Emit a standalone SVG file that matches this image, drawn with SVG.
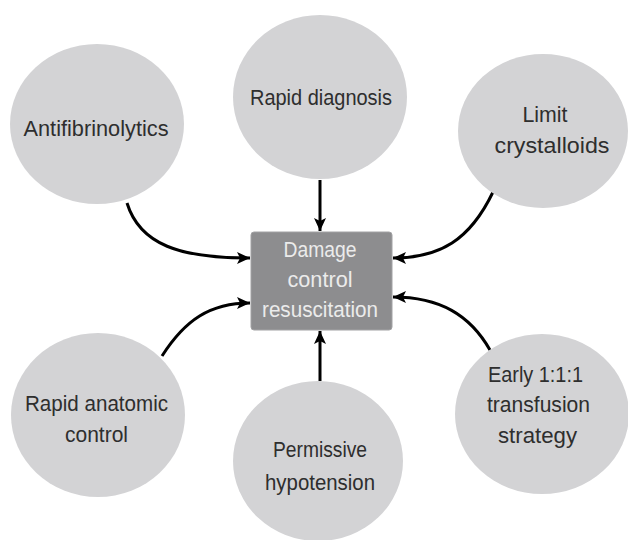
<svg xmlns="http://www.w3.org/2000/svg" width="628" height="540" viewBox="0 0 628 540">
<defs>
<style>
.circ{fill:#d3d3d5;}
.lbl{font-family:"Liberation Sans",Arial,sans-serif;font-size:22px;fill:#2e2e2e;text-anchor:middle;}
.box{fill:#8d8d8f;stroke:#a2a2a4;stroke-width:1;}
.boxlbl{font-family:"Liberation Sans",Arial,sans-serif;font-size:22px;fill:#ebebeb;text-anchor:middle;}
.conn{fill:none;stroke:#000;stroke-width:3;marker-end:url(#ah);}
</style>
<marker id="ah" markerUnits="userSpaceOnUse" markerWidth="14" markerHeight="12" refX="13" refY="6" orient="auto">
<path d="M0,0 L13,6 L0,12 L3,6 Z" fill="#000"/>
</marker>
</defs>
<rect width="628" height="540" fill="#ffffff"/>
<g id="connectors">
<path class="conn" d="M127,203 C140,245 180,258 250,258"/>
<path class="conn" d="M320,180 L320,231"/>
<path class="conn" d="M493,192 C470,240 440,258 393,258"/>
<path class="conn" d="M162,356 C185,320 210,303 250,303"/>
<path class="conn" d="M320,381 L320,331"/>
<path class="conn" d="M490,350 C470,315 440,297 393,297"/>
</g>
<g id="node-antifibrinolytics">
<ellipse class="circ" cx="97" cy="124" rx="87" ry="80"/>
<text class="lbl" x="96" y="136" textLength="145" lengthAdjust="spacingAndGlyphs">Antifibrinolytics</text>
</g>
<g id="node-rapid-diagnosis">
<ellipse class="circ" cx="320" cy="97" rx="87" ry="82"/>
<text class="lbl" x="321" y="105" textLength="142" lengthAdjust="spacingAndGlyphs">Rapid diagnosis</text>
</g>
<g id="node-limit-crystalloids">
<ellipse class="circ" cx="543" cy="131" rx="85" ry="77"/>
<text class="lbl" x="545" y="122" textLength="45" lengthAdjust="spacingAndGlyphs">Limit</text>
<text class="lbl" x="552" y="153" textLength="115" lengthAdjust="spacingAndGlyphs">crystalloids</text>
</g>
<g id="node-rapid-anatomic-control">
<ellipse class="circ" cx="98" cy="415" rx="87" ry="82"/>
<text class="lbl" x="96.5" y="411" textLength="143" lengthAdjust="spacingAndGlyphs">Rapid anatomic</text>
<text class="lbl" x="96.5" y="442" textLength="63" lengthAdjust="spacingAndGlyphs">control</text>
</g>
<g id="node-permissive-hypotension">
<ellipse class="circ" cx="318" cy="461" rx="85" ry="80"/>
<text class="lbl" x="320" y="457" textLength="94" lengthAdjust="spacingAndGlyphs">Permissive</text>
<text class="lbl" x="320" y="490" textLength="110" lengthAdjust="spacingAndGlyphs">hypotension</text>
</g>
<g id="node-early-transfusion">
<ellipse class="circ" cx="542" cy="414" rx="87" ry="80"/>
<text class="lbl" x="535.5" y="382" textLength="95" lengthAdjust="spacingAndGlyphs">Early 1:1:1</text>
<text class="lbl" x="538.5" y="412" textLength="103" lengthAdjust="spacingAndGlyphs">transfusion</text>
<text class="lbl" x="537.5" y="443" textLength="79" lengthAdjust="spacingAndGlyphs">strategy</text>
</g>
<g id="node-dcr">
<rect class="box" x="251" y="232" width="141" height="98" rx="3"/>
<text class="boxlbl" x="320" y="257" textLength="73" lengthAdjust="spacingAndGlyphs">Damage</text>
<text class="boxlbl" x="320" y="287" textLength="65" lengthAdjust="spacingAndGlyphs">control</text>
<text class="boxlbl" x="320" y="317" textLength="116" lengthAdjust="spacingAndGlyphs">resuscitation</text>
</g>
</svg>
